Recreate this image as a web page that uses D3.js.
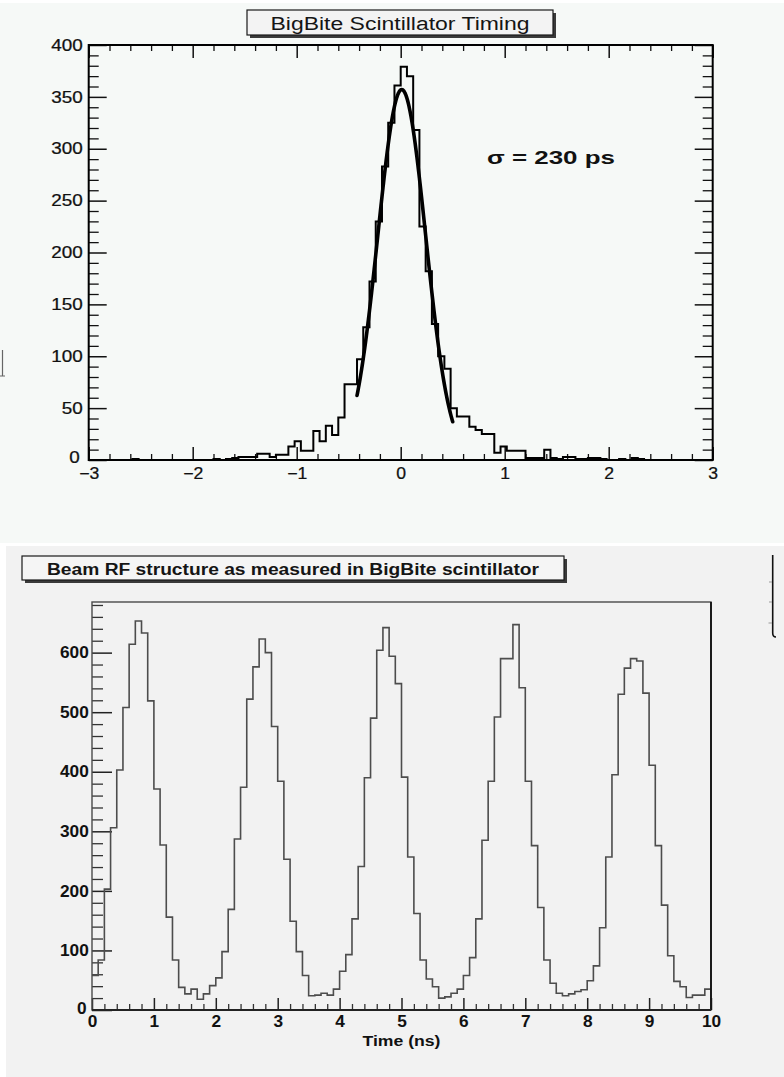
<!DOCTYPE html>
<html>
<head>
<meta charset="utf-8">
<script src="https://cdn.jsdelivr.net/npm/d3@7"></script>
<style>
  html, body { margin: 0; padding: 0; background: #ffffff; }
  svg { display: block; }
  text { font-family: Arial, "Liberation Sans", Helvetica, sans-serif; }
</style>
</head>
<body>
<svg id="fig" width="784" height="1077"></svg>
<script>
// ---------- BigBite scintillator timing (60 ps bins, -3 .. 3 ns) ----------
const timingRange = [-3, 3];
const timingCounts = [
  0, 0, 0, 0, 0, 0, 0, 1, 0, 0,
  0, 0, 0, 0, 0, 0, 0, 0, 0, 0,
  1, 0, 1, 2, 3, 3, 3, 6, 6, 3,
  5, 5, 13, 18, 9, 9, 28, 18, 33, 24,
  41, 73, 73, 97, 128, 172, 230, 283, 325, 361,
  379, 370, 318, 225, 182, 131, 100, 88, 50, 42,
  42, 32, 29, 25, 25, 7, 13, 9, 9, 9,
  2, 2, 2, 10, 2, 1, 3, 3, 1, 1,
  2, 2, 1, 0, 0, 1, 0, 2, 1, 0,
  0, 0, 0, 0, 0, 0, 0, 0, 0, 0
];
const timingYMax = 400;
const timingXTicks = [-3, -2, -1, 0, 1, 2, 3];
const timingYTicks = [0, 50, 100, 150, 200, 250, 300, 350, 400];

// Gaussian fit of the timing peak (sigma = 230 ps)
const fitConstant = 357;
const fitMean = 0.01;
const fitSigma = 0.23;
const fitRange = [-0.42, 0.5];
const fitLabel = "\u03c3 = 230 ps";

// ---------- Beam RF structure (0.1 ns bins, 0 .. 10 ns) ----------
const rfRange = [0, 10];
const rfCounts = [
  58, 84, 203, 306, 403, 508, 614, 653, 633, 519,
  371, 277, 156, 84, 38, 27, 35, 18, 27, 41,
  54, 98, 169, 287, 374, 522, 576, 623, 600, 476,
  384, 253, 149, 98, 58, 24, 25, 28, 25, 35,
  65, 93, 153, 241, 390, 490, 604, 642, 594, 548,
  391, 257, 162, 84, 52, 39, 20, 22, 28, 35,
  58, 88, 153, 285, 384, 492, 590, 590, 647, 541,
  384, 276, 172, 84, 45, 28, 24, 27, 31, 34,
  49, 74, 138, 257, 395, 530, 574, 590, 586, 532,
  411, 276, 176, 91, 48, 39, 21, 25, 25, 35
];
const rfYMax = 685;
const rfXTicks = [0, 1, 2, 3, 4, 5, 6, 7, 8, 9, 10];
const rfYTicks = [0, 100, 200, 300, 400, 500, 600];

const titleTop = "BigBite Scintillator Timing";
const titleBottom = "Beam RF structure as measured in BigBite scintillator";
const rfXTitle = "Time (ns)";

// ---------------------------------------------------------------------
const svg = d3.select("#fig");

// pad backgrounds
svg.append("rect").attr("x", 0).attr("y", 0).attr("width", 784).attr("height", 1077).attr("fill", "#ffffff");
svg.append("rect").attr("x", 0).attr("y", 3).attr("width", 784).attr("height", 540).attr("fill", "#f6f9f7");
svg.append("rect").attr("x", 6).attr("y", 546).attr("width", 778).attr("height", 531).attr("fill", "#f2f2f2");

// helpers
function binPoints(counts, range) {
  const w = (range[1] - range[0]) / counts.length;
  const pts = counts.map((c, i) => [range[0] + i * w, c]);
  pts.push([range[1], counts[counts.length - 1]]);
  return pts;
}
function minorValues(lo, hi, step, majorStep) {
  const n = Math.round((hi - lo) / step);
  return d3.range(n + 1).map(i => lo + i * step)
    .filter(v => Math.abs(v / majorStep - Math.round(v / majorStep)) > 1e-6);
}
function styleTicks(g, color, width) {
  g.select(".domain").remove();
  g.selectAll(".tick line").attr("stroke", color).attr("stroke-width", width);
}
function titleBox(x, y, w, h, label, opts) {
  const g = svg.append("g");
  g.append("rect").attr("x", x + 3).attr("y", y + 3).attr("width", w).attr("height", h).attr("fill", "#3a3a3a");
  g.append("rect").attr("x", x).attr("y", y).attr("width", w).attr("height", h)
    .attr("fill", opts.fill).attr("stroke", "#1a1a1a").attr("stroke-width", 1.2);
  g.append("text").attr("x", x + w / 2).attr("y", opts.baseline)
    .attr("text-anchor", "middle")
    .attr("font-size", opts.size).attr("font-weight", opts.weight)
    .attr("fill", "#151515")
    .attr("textLength", opts.length).attr("lengthAdjust", "spacingAndGlyphs")
    .text(label);
}

// ================= timing chart =================
const tx = d3.scaleLinear().domain(timingRange).range([88.7, 712.7]);
const ty = d3.scaleLinear().domain([0, timingYMax]).range([460, 45]);
const timingG = svg.append("g");

const txMinor = minorValues(-3, 3, 0.2, 1);
const tyMinor = minorValues(0, 400, 10, 50);
const tickCol = "#111";

// bottom axis with labels
const gxb = timingG.append("g").attr("transform", "translate(0,460)")
  .call(d3.axisBottom(tx).tickValues(timingXTicks).tickSizeInner(-13).tickSizeOuter(0).tickPadding(8)
        .tickFormat(d3.format("d")));
styleTicks(gxb, tickCol, 1.5);
gxb.selectAll("text").attr("font-size", 16).attr("fill", "#111").attr("stroke", "#111").attr("stroke-width", 0.25)
  .attr("transform", "scale(1.1,1)");
timingG.append("g").attr("transform", "translate(0,460)")
  .call(d3.axisBottom(tx).tickValues(txMinor).tickSizeInner(-6).tickSizeOuter(0).tickFormat(""))
  .call(g => styleTicks(g, tickCol, 1.3));
// top axis (ticks only)
timingG.append("g").attr("transform", "translate(0,45)")
  .call(d3.axisTop(tx).tickValues(timingXTicks).tickSizeInner(-13).tickSizeOuter(0).tickFormat(""))
  .call(g => styleTicks(g, tickCol, 1.5));
timingG.append("g").attr("transform", "translate(0,45)")
  .call(d3.axisTop(tx).tickValues(txMinor).tickSizeInner(-6).tickSizeOuter(0).tickFormat(""))
  .call(g => styleTicks(g, tickCol, 1.3));
// left axis with labels
const gyl = timingG.append("g").attr("transform", "translate(88.7,0)")
  .call(d3.axisLeft(ty).tickValues(timingYTicks).tickSizeInner(-18).tickSizeOuter(0).tickPadding(5)
        .tickFormat(d3.format("d")));
styleTicks(gyl, tickCol, 1.5);
gyl.selectAll("text").attr("font-size", 16).attr("fill", "#111").attr("stroke", "#111").attr("stroke-width", 0.25)
  .attr("transform", "scale(1.18,1)");
// the zero label sits just left of and above the x-axis labels
gyl.selectAll(".tick").filter(d => d === 0).select("text").attr("x", -7.6).attr("dy", "0.15em");
timingG.append("g").attr("transform", "translate(88.7,0)")
  .call(d3.axisLeft(ty).tickValues(tyMinor).tickSizeInner(-10).tickSizeOuter(0).tickFormat(""))
  .call(g => styleTicks(g, tickCol, 1.3));
// right axis (ticks only)
timingG.append("g").attr("transform", "translate(712.7,0)")
  .call(d3.axisRight(ty).tickValues(timingYTicks).tickSizeInner(-18).tickSizeOuter(0).tickFormat(""))
  .call(g => styleTicks(g, tickCol, 1.5));
timingG.append("g").attr("transform", "translate(712.7,0)")
  .call(d3.axisRight(ty).tickValues(tyMinor).tickSizeInner(-10).tickSizeOuter(0).tickFormat(""))
  .call(g => styleTicks(g, tickCol, 1.3));

// histogram outline
const tLine = d3.line().x(d => tx(d[0])).y(d => ty(d[1])).curve(d3.curveStepAfter);
timingG.append("path").datum(binPoints(timingCounts, timingRange))
  .attr("d", tLine).attr("fill", "none").attr("stroke", "#000").attr("stroke-width", 2);

// gaussian fit curve
const gauss = x => fitConstant * Math.exp(-0.5 * Math.pow((x - fitMean) / fitSigma, 2));
const fitPts = d3.range(fitRange[0], fitRange[1] + 1e-9, 0.005).map(x => [x, gauss(x)]);
timingG.append("path").datum(fitPts)
  .attr("d", d3.line().x(d => tx(d[0])).y(d => ty(d[1])))
  .attr("fill", "none").attr("stroke", "#000").attr("stroke-width", 3.6)
  .attr("stroke-linejoin", "round").attr("stroke-linecap", "round");

// frame
timingG.append("rect").attr("x", tx(-3)).attr("y", ty(400)).attr("width", tx(3) - tx(-3)).attr("height", ty(0) - ty(400))
  .attr("fill", "none").attr("stroke", "#000").attr("stroke-width", 2);

// sigma annotation
timingG.append("text").attr("x", 487).attr("y", 164).attr("font-size", 18).attr("font-weight", "bold")
  .attr("fill", "#111").attr("textLength", 128).attr("lengthAdjust", "spacingAndGlyphs").text(fitLabel);

titleBox(247, 10, 306, 25, titleTop, { fill: "#f3f3f3", baseline: 29.5, size: 18, weight: "normal", length: 259 });

// ================= RF structure chart =================
const bx = d3.scaleLinear().domain(rfRange).range([92, 711]);
const by = d3.scaleLinear().domain([0, rfYMax]).range([1010, 602]);
const rfG = svg.append("g");

const bxMinor = minorValues(0, 10, 0.2, 1);
const byMinor = minorValues(0, 680, 20, 100);

const gbx = rfG.append("g").attr("transform", "translate(0,1010)")
  .call(d3.axisBottom(bx).tickValues(rfXTicks).tickSizeInner(-12).tickSizeOuter(0).tickPadding(6)
        .tickFormat(d3.format("d")));
styleTicks(gbx, "#222", 1.5);
gbx.selectAll("text").attr("font-size", 16).attr("font-weight", "bold").attr("fill", "#111").attr("transform", "scale(1.08,1)");
rfG.append("g").attr("transform", "translate(0,1010)")
  .call(d3.axisBottom(bx).tickValues(bxMinor).tickSizeInner(-6).tickSizeOuter(0).tickFormat(""))
  .call(g => styleTicks(g, "#333", 1.3));

const gby = rfG.append("g").attr("transform", "translate(92,0)")
  .call(d3.axisLeft(by).tickValues(rfYTicks).tickSizeInner(-20).tickSizeOuter(0).tickPadding(3)
        .tickFormat(d3.format("d")));
styleTicks(gby, "#222", 1.5);
gby.selectAll("text").attr("font-size", 16).attr("font-weight", "bold").attr("fill", "#111").attr("transform", "scale(1.08,1)");
gby.selectAll(".tick").filter(d => d === 0).select("text").attr("x", -5).attr("dy", "0.2em");
rfG.append("g").attr("transform", "translate(92,0)")
  .call(d3.axisLeft(by).tickValues(byMinor).tickSizeInner(-11).tickSizeOuter(0).tickFormat(""))
  .call(g => styleTicks(g, "#333", 1.3));

// histogram outline
const bLine = d3.line().x(d => bx(d[0])).y(d => by(d[1])).curve(d3.curveStepAfter);
rfG.append("path").datum(binPoints(rfCounts, rfRange))
  .attr("d", bLine).attr("fill", "none").attr("stroke", "#4d4d4d").attr("stroke-width", 1.6);

// frame
rfG.append("rect").attr("x", bx(0)).attr("y", by(rfYMax)).attr("width", bx(10) - bx(0)).attr("height", by(0) - by(rfYMax))
  .attr("fill", "none").attr("stroke", "#4a4a4a").attr("stroke-width", 1.4);
rfG.append("line").attr("x1", bx(10)).attr("x2", bx(10)).attr("y1", by(rfYMax)).attr("y2", by(0))
  .attr("stroke", "#111").attr("stroke-width", 1.8);
rfG.append("line").attr("x1", bx(0)).attr("x2", bx(10)).attr("y1", by(0)).attr("y2", by(0))
  .attr("stroke", "#222").attr("stroke-width", 1.8);

// axis title
rfG.append("text").attr("x", (bx(0) + bx(10)) / 2).attr("y", 1046).attr("text-anchor", "middle")
  .attr("font-size", 14).attr("font-weight", "bold").attr("fill", "#111")
  .attr("textLength", 78).attr("lengthAdjust", "spacingAndGlyphs").text(rfXTitle);

titleBox(22, 556, 542, 24, titleBottom, { fill: "#f5f5f5", baseline: 574.5, size: 16, weight: "bold", length: 492 });

// edges of neighbouring pads
svg.append("path").attr("d", "M2.5,350 V376 M0,376 H5")
  .attr("fill", "none").attr("stroke", "#666").attr("stroke-width", 1.2);
svg.append("path").attr("d", "M772.7,555 V633 Q772.7,637 776,637")
  .attr("fill", "none").attr("stroke", "#111").attr("stroke-width", 1.6);
svg.append("path").attr("d", "M769,582 H772 M769,602 H772 M768.5,623 H772")
  .attr("fill", "none").attr("stroke", "#999").attr("stroke-width", 1);
</script>
</body>
</html>
